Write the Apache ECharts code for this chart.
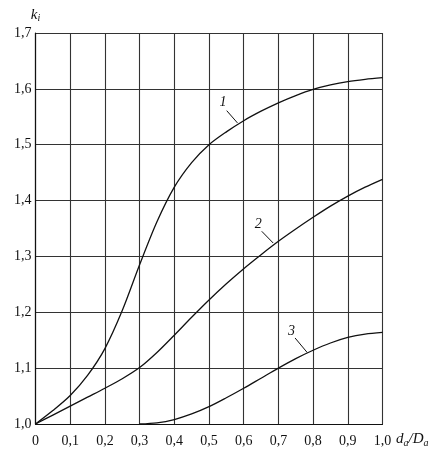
<!DOCTYPE html>
<html>
<head>
<meta charset="utf-8">
<script src="https://cdn.jsdelivr.net/npm/echarts@6/dist/echarts.min.js"></script>
<style>
  html, body { margin: 0; padding: 0; background: #fff; }
  #main { width: 446px; height: 462px; }
</style>
</head>
<body>
<div id="main"></div>
<script>
// tick labels (comma decimals, as in the original)
var xTicks = ['0', '0,1', '0,2', '0,3', '0,4', '0,5', '0,6', '0,7', '0,8', '0,9', '1,0'];
var yTicks = ['1,0', '1,1', '1,2', '1,3', '1,4', '1,5', '1,6', '1,7'];

// curves: [d_a/D_a, k_i]
var curve1 = [[0, 1.0], [0.05, 1.024], [0.1, 1.051], [0.15, 1.087], [0.2, 1.135], [0.25, 1.203],
  [0.3, 1.285], [0.35, 1.362], [0.4, 1.424], [0.45, 1.468], [0.5, 1.5], [0.55, 1.523],
  [0.6, 1.543], [0.65, 1.56], [0.7, 1.575], [0.75, 1.588], [0.8, 1.599], [0.85, 1.607],
  [0.9, 1.613], [0.95, 1.617], [1.0, 1.62]];
var curve2 = [[0, 1.0], [0.05, 1.016], [0.1, 1.032], [0.15, 1.048], [0.2, 1.064], [0.25, 1.081],
  [0.3, 1.101], [0.35, 1.128], [0.4, 1.159], [0.45, 1.191], [0.5, 1.222], [0.55, 1.251],
  [0.6, 1.278], [0.65, 1.303], [0.7, 1.327], [0.75, 1.349], [0.8, 1.37], [0.85, 1.39],
  [0.9, 1.408], [0.95, 1.424], [1.0, 1.438]];
var curve3 = [[0.3, 1.0], [0.35, 1.002], [0.4, 1.008], [0.45, 1.018], [0.5, 1.031], [0.55, 1.047],
  [0.6, 1.064], [0.65, 1.082], [0.7, 1.1], [0.75, 1.117], [0.8, 1.132], [0.85, 1.145],
  [0.9, 1.155], [0.95, 1.161], [1.0, 1.164]];

// curve numbers and their leader lines
var curveNames = ['1', '2', '3'];
var labelAt = [[0.54, 1.576], [0.642, 1.357], [0.738, 1.166]];
var leaders = [
  [[0.551, 1.561], [0.582, 1.539]],
  [[0.652, 1.345], [0.685, 1.324]],
  [[0.748, 1.154], [0.783, 1.128]]
];

var font = '"Liberation Serif", "DejaVu Serif", serif';

var chart = echarts.init(document.getElementById('main'));

function curveSeries(data, i) {
  return {
    type: 'line',
    data: data,
    smooth: 0.3,
    symbol: 'none',
    lineStyle: { color: '#111', width: 1.3 },
    markLine: {
      silent: true,
      symbol: 'none',
      animation: false,
      lineStyle: { color: '#111', width: 1, type: 'solid' },
      label: { show: false },
      data: [[{ coord: leaders[i][0] }, { coord: leaders[i][1] }]]
    },
    markPoint: {
      silent: true,
      symbol: 'circle',
      symbolSize: 0,
      animation: false,
      label: {
        show: true,
        formatter: curveNames[i],
        color: '#111',
        fontFamily: font,
        fontStyle: 'italic',
        fontSize: 14
      },
      data: [{ coord: labelAt[i] }]
    }
  };
}

chart.setOption({
  animation: false,
  backgroundColor: '#fff',
  grid: { left: 35.5, right: 63.5, top: 33, bottom: 38 },
  xAxis: {
    type: 'value',
    min: 0, max: 1, interval: 0.1,
    axisLine: { show: true, lineStyle: { color: '#111', width: 1.2 } },
    axisTick: { show: false },
    splitLine: { show: true, lineStyle: { color: '#333', width: 1.1 } },
    axisLabel: {
      margin: 10,
      color: '#111',
      fontFamily: font,
      fontSize: 14,
      formatter: function (v) { return xTicks[Math.round(v * 10)]; }
    }
  },
  yAxis: {
    type: 'value',
    min: 1.0, max: 1.7, interval: 0.1,
    name: '{k|k}{i|i}',
    nameLocation: 'end',
    nameGap: 10,
    nameTextStyle: {
      rich: {
        k: { fontFamily: font, fontStyle: 'italic', fontSize: 15, color: '#111' },
        i: { fontFamily: font, fontStyle: 'italic', fontSize: 10, color: '#111', verticalAlign: 'bottom', padding: [6, 0, 0, 0] }
      }
    },
    axisLine: { show: true, lineStyle: { color: '#111', width: 1.2 } },
    axisTick: { show: false },
    splitLine: { show: true, lineStyle: { color: '#333', width: 1.1 } },
    axisLabel: {
      margin: 4,
      color: '#111',
      fontFamily: font,
      fontSize: 14,
      formatter: function (v) { return yTicks[Math.round((v - 1) * 10)]; }
    }
  },
  graphic: [{
    type: 'text',
    left: 396,
    top: 432,
    style: {
      text: '{a|d}{s|a}{a|/D}{s|a}',
      rich: {
        a: { fontFamily: font, fontStyle: 'italic', fontSize: 15, fill: '#111' },
        s: { fontFamily: font, fontStyle: 'italic', fontSize: 10, fill: '#111', verticalAlign: 'bottom', padding: [7, 0, 0, 0] }
      }
    }
  }],
  series: [curveSeries(curve1, 0), curveSeries(curve2, 1), curveSeries(curve3, 2)]
});
</script>
</body>
</html>
